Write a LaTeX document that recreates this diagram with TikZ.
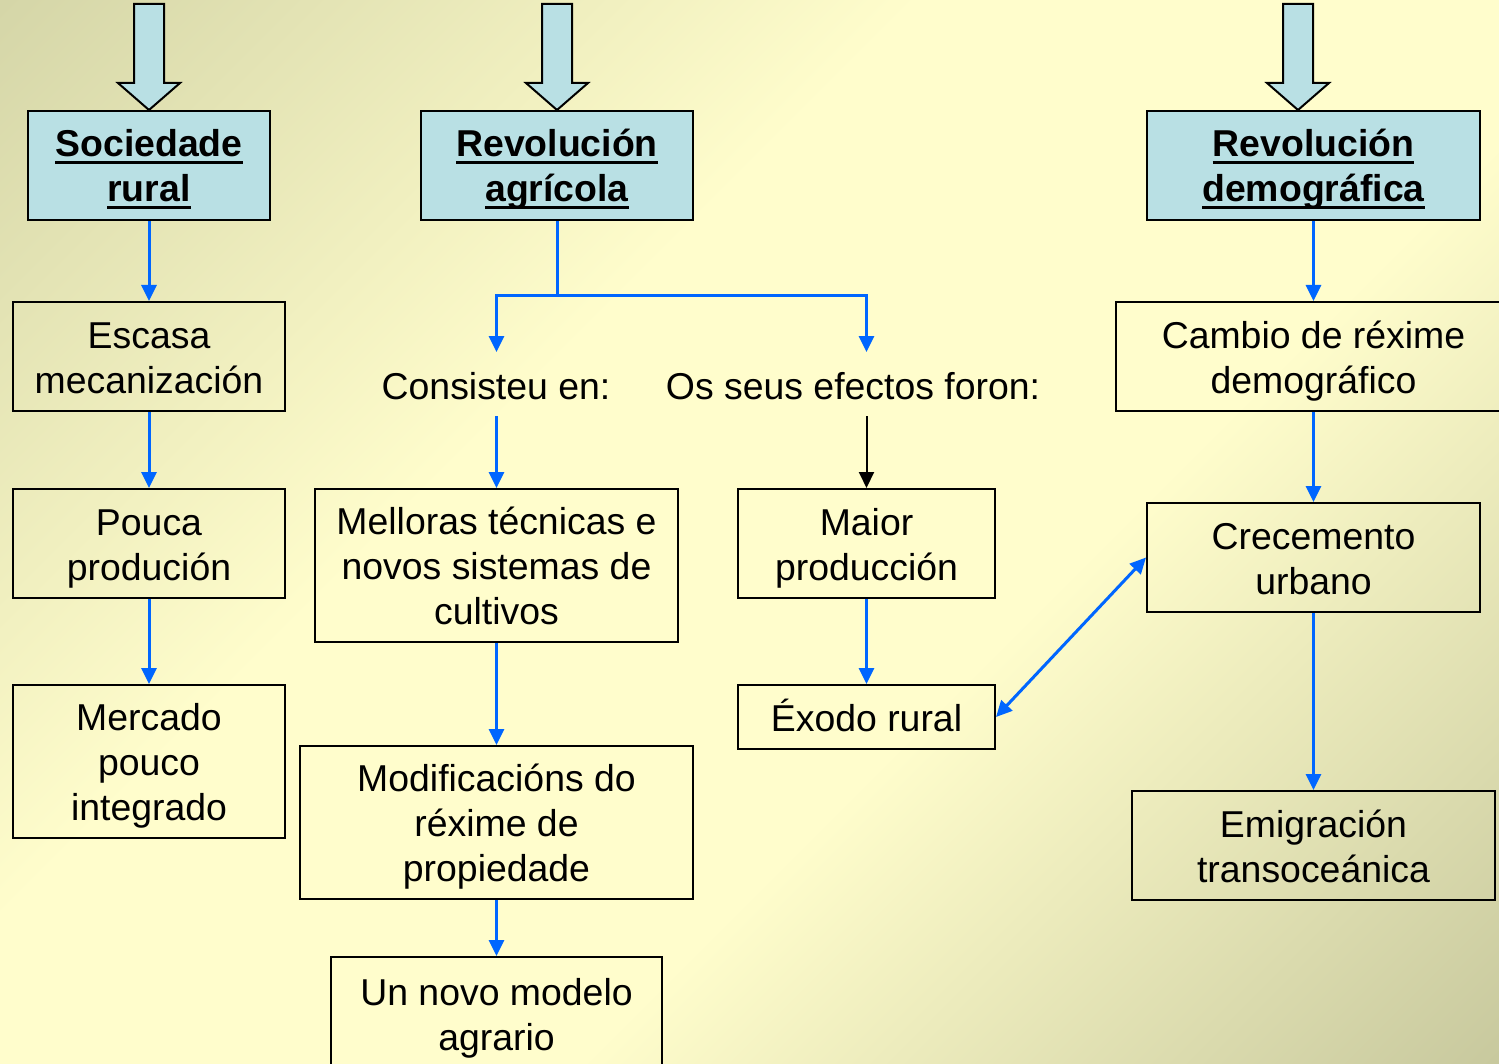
\documentclass[tikz,border=0pt]{standalone}
\usepackage{fontspec}
\setmainfont{Liberation Sans}
\usetikzlibrary{arrows.meta}
\definecolor{bgtl}{RGB}{213,214,168}
\definecolor{bgbr}{RGB}{200,201,158}
\definecolor{bglight}{RGB}{255,253,204}
\definecolor{titleblue}{RGB}{185,224,228}
\definecolor{arrowblue}{RGB}{0,102,255}
\pgfdeclareverticalshading{bgshade}{100bp}{color(0bp)=(bgbr); color(14.6bp)=(bgbr); color(40bp)=(bglight); color(50bp)=(bglight); color(60bp)=(bglight); color(85.4bp)=(bgtl); color(100bp)=(bgtl)}
\newcommand\tul[1]{\setbox0\hbox{#1}\rlap{\rule[-3.6pt]{\wd0}{1.8pt}}\box0}
\newcommand\topst{\rule{0pt}{20.75pt}}
\newcommand\botst{\rule[-6.75pt]{0pt}{0pt}}
\tikzset{
  box/.style={draw=black, line width=1pt, align=center, inner sep=0pt,
    font=\fontsize{18.7pt}{22.5pt}\selectfont},
  titlebox/.style={box, fill=titleblue, font=\fontsize{18.7pt}{22.5pt}\selectfont\bfseries},
  plain/.style={align=center, inner sep=0pt, font=\fontsize{18.7pt}{22.5pt}\selectfont},
  bline/.style={draw=arrowblue, line width=1.5pt},
  conn/.style={bline, -{Triangle[length=8pt,width=7.5pt]}},
  dconn/.style={bline, {Triangle[length=8pt,width=7.5pt]}-{Triangle[length=8pt,width=7.5pt]}},
  blk/.style={draw=black, line width=1pt, -{Triangle[length=8pt,width=7.5pt]}},
  blockarrow/.style={draw=black, fill=titleblue, line width=1pt}
}
\begin{document}
\begin{tikzpicture}[x=0.5pt, y=-0.5pt]
\useasboundingbox (0,0) rectangle (1499,1064);
\shade[shading=bgshade, shading angle=45] (0,0) rectangle (1499,1064);
\begin{scope}
\clip (0,0) rectangle (1499,1064);
% block arrows
\foreach \c in {149,557,1298}
  \draw[blockarrow] (\c-15,4) -- (\c+15,4) -- (\c+15,83) -- (\c+31,83) -- (\c,110) -- (\c-31,83) -- (\c-15,83) -- cycle;
% title boxes
\node[titlebox, minimum width=121pt, minimum height=54.5pt] (soc) at (149,165.5) {\topst\tul{Sociedade}\\\tul{rural}\botst};
\node[titlebox, minimum width=136pt, minimum height=54.5pt] (ragr) at (557,165.5) {\topst\tul{Revolución}\\\tul{agrícola}\botst};
\node[titlebox, minimum width=166.5pt, minimum height=54.5pt] (rdem) at (1313.5,165.5) {\topst\tul{Revolución}\\\tul{demográfica}\botst};
% left column
\node[box, minimum width=136pt, minimum height=54.5pt] (esc) at (149,356.5) {\topst Escasa\\mecanización\botst};
\node[box, minimum width=136pt, minimum height=54.5pt] (pou) at (149,543.5) {\topst Pouca\\produción\botst};
\node[box, minimum width=136pt, minimum height=76.5pt] (mer) at (149,761.5) {\topst Mercado\\pouco\\integrado\botst};
% middle
\node[plain] (con) at (496,386) {Consisteu en:};
\node[plain] (efe) at (853,386) {Os seus efectos foron:};
\node[box, minimum width=181.5pt, minimum height=76.5pt] (mel) at (496.5,565.5) {\topst Melloras técnicas e\\novos sistemas de\\cultivos\botst};
\node[box, minimum width=196.5pt, minimum height=76.5pt] (mod) at (496.5,822.5) {\topst Modificacións do\\réxime de\\propiedade\botst};
\node[box, minimum width=165.5pt, minimum height=56.5pt] (nov) at (496.5,1013.5) {\topst Un novo modelo\\agrario\botst};
\node[box, minimum width=128.5pt, minimum height=54.5pt] (mai) at (866.5,543.5) {\topst Maior\\producción\botst};
\node[box, minimum width=128.5pt, minimum height=32pt] (exo) at (866.5,717) {\topst Éxodo rural\botst};
% right column
\node[box, minimum width=197.5pt, minimum height=54.5pt] (cam) at (1313.5,356.5) {\topst Cambio de réxime\\demográfico\botst};
\node[box, minimum width=166.5pt, minimum height=54.5pt] (cre) at (1313.5,557.5) {\topst Crecemento\\urbano\botst};
\node[box, minimum width=181.5pt, minimum height=54.5pt] (emi) at (1313.5,845.5) {\topst Emigración\\transoceánica\botst};
% connectors
\draw[conn] (soc) -- (esc);
\draw[conn] (esc) -- (pou);
\draw[conn] (pou) -- (mer);
\coordinate (br) at (557,296);
\coordinate (brL) at (496.5,352);
\coordinate (brR) at (866.5,352);
\draw[bline] (ragr.south) -- (br);
\draw[conn] (br) -| (brL);
\draw[conn] (br) -| (brR);
\coordinate (c1) at (496.5,416);
\coordinate (c2) at (866.5,416);
\draw[conn] (c1) -- (mel.north);
\draw[blk] (c2) -- (mai.north);
\draw[conn] (mel) -- (mod);
\draw[conn] (mod) -- (nov.north);
\draw[conn] (mai) -- (exo);
\draw[dconn] (exo.east) -- (cre.west);
\draw[conn] (rdem) -- (cam);
\draw[conn] (cam) -- (cre);
\draw[conn] (cre) -- (emi);
\end{scope}
\end{tikzpicture}
\end{document}
